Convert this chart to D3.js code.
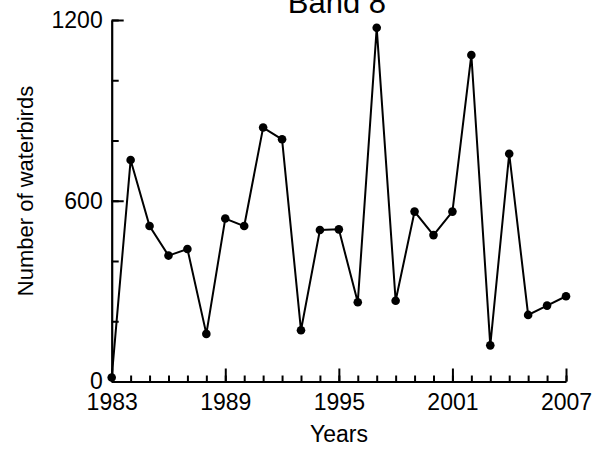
<!DOCTYPE html>
<html lang="en">
<head>
  <meta charset="UTF-8">
  <title>Band 8</title>
  <script src="https://d3js.org/d3.v7.min.js"></script>
  <style>
    body { margin: 0; background: #fff; }
    text { font-family: "Liberation Sans", Arial, sans-serif; fill: #000; }
  </style>
</head>
<body>
<div id="chart"></div>
<script>
// data
const years = d3.range(1983, 2008);
const birds = [13, 735, 516, 418, 440, 158, 541, 516, 843, 804, 170,
               503, 505, 263, 1174, 268, 564, 486, 564, 1084, 120, 756, 221, 252, 283];
const yearTicks = [1983, 1989, 1995, 2001, 2007];
const countTicks = [0, 600, 1200];
const countMinor = [0, 200, 400, 600, 800, 1000, 1200];

const width = 608, height = 449;

const svg = d3.select("#chart")
  .append("svg")
  .attr("width", width)
  .attr("height", height);

const x = d3.scaleLinear().domain([1983, 2007]).range([111.7, 566]);
const y = d3.scaleLinear().domain([0, 1200]).range([381.5, 20]);

// minor ticks (no labels)
svg.append("g")
  .attr("transform", `translate(0,${y(0)})`)
  .call(d3.axisBottom(x).tickValues(years).tickSize(-6).tickSizeOuter(0).tickFormat(""))
  .call(g => g.select(".domain").remove());

svg.append("g")
  .attr("transform", `translate(${x(1983)},0)`)
  .call(d3.axisLeft(y).tickValues(countMinor).tickSize(-7).tickSizeOuter(0).tickFormat(""))
  .call(g => g.select(".domain").remove());

// major ticks with labels
svg.append("g")
  .attr("transform", `translate(0,${y(0)})`)
  .call(d3.axisBottom(x).tickValues(yearTicks).tickSize(-13).tickSizeOuter(0)
    .tickPadding(12).tickFormat(d3.format("d")));

svg.append("g")
  .attr("transform", `translate(${x(1983)},0)`)
  .call(d3.axisLeft(y).tickValues(countTicks).tickSize(-12).tickSizeOuter(0)
    .tickPadding(9).tickFormat(d3.format("d")));

svg.selectAll(".tick line").attr("stroke", "#000").attr("stroke-width", 2);
svg.selectAll(".domain").attr("stroke", "#000").attr("stroke-width", 2.2);
svg.selectAll(".tick text")
  .style("font-family", "'Liberation Sans', Arial, sans-serif")
  .style("font-size", "23px")
  .attr("fill", "#000");

// line + markers
const line = d3.line()
  .x((d, i) => x(years[i]))
  .y(d => y(d));

svg.append("path")
  .datum(birds)
  .attr("fill", "none")
  .attr("stroke", "#000")
  .attr("stroke-width", 2)
  .attr("d", line);

svg.selectAll("circle.pt")
  .data(birds)
  .enter()
  .append("circle")
  .attr("class", "pt")
  .attr("cx", (d, i) => x(years[i]))
  .attr("cy", d => y(d))
  .attr("r", 4.3)
  .attr("fill", "#000");

// titles
svg.append("text")
  .attr("x", 337)
  .attr("y", 12.7)
  .attr("text-anchor", "middle")
  .style("font-size", "31px")
  .text("Band 8");

svg.append("text")
  .attr("x", 339)
  .attr("y", 441.5)
  .attr("text-anchor", "middle")
  .style("font-size", "23px")
  .text("Years");

svg.append("text")
  .attr("transform", "translate(33.3,191) rotate(-90)")
  .attr("text-anchor", "middle")
  .style("font-size", "22px")
  .text("Number of waterbirds");
</script>
</body>
</html>
